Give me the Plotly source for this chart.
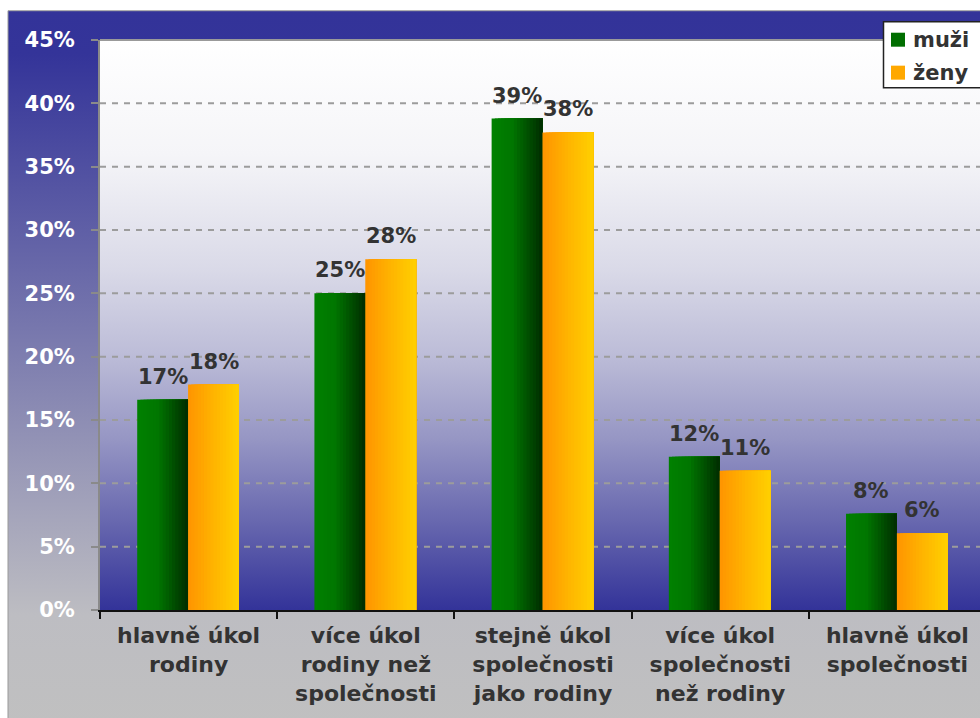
import base64
import plotly.graph_objects as go

categories = ["hlavně úkol<br>rodiny", "více úkol<br>rodiny než<br>společnosti",
              "stejně úkol<br>společnosti<br>jako rodiny", "více úkol<br>společnosti<br>než rodiny",
              "hlavně úkol<br>společnosti"]
muzi = [16.6, 25.0, 38.8, 12.1, 7.6]
zeny = [17.8, 27.7, 37.7, 11.0, 6.05]
series_names = ["muži", "ženy"]
y_ticks = [0, 5, 10, 15, 20, 25, 30, 35, 40, 45]

FONT = "DejaVu Sans"
TXT = "#333333"

def svg_uri(stops):
    st = "".join(f'<stop offset="{o}" stop-color="{c}"/>' for o, c in stops)
    svg = ('<svg xmlns="http://www.w3.org/2000/svg" width="100" height="100" viewBox="0 0 100 100" '
           'preserveAspectRatio="none"><defs><linearGradient id="g" x1="0" y1="0" x2="0" y2="1">'
           + st + '</linearGradient></defs><rect x="0" y="0" width="100" height="100" fill="url(#g)"/></svg>')
    return "data:image/svg+xml;base64," + base64.b64encode(svg.encode()).decode()

outer_bg = svg_uri([(0, "#333399"), (0.06, "#343499"), (0.84, "#bdbdc2"), (1, "#c0c0c0")])
inner_bg = svg_uri([(0, "#ffffff"), (0.2, "#f5f5f8"), (0.4, "#dadae8"), (0.55, "#bdbdd8"),
                    (0.7, "#9696c4"), (0.85, "#6666ae"), (1, "#333399")])

def interp(stops, t):
    for (t0, c0), (t1, c1) in zip(stops, stops[1:]):
        if t0 <= t <= t1:
            f = (t - t0) / (t1 - t0) if t1 > t0 else 0
            return "rgb(%d,%d,%d)" % tuple(round(a + (b - a) * f) for a, b in zip(c0, c1))
    return "rgb(%d,%d,%d)" % stops[-1][1]

green_stops = [(0, (0, 128, 0)), (0.4, (0, 118, 0)), (1, (0, 48, 0))]
orange_stops = [(0, (255, 150, 0)), (0.5, (255, 180, 0)), (1, (255, 206, 0))]

BW = 0.287
K = 16
fig = go.Figure()
for vals, off0, stops in [(muzi, -0.29, green_stops), (zeny, -0.003, orange_stops)]:
    for i in range(K):
        t = i / (K - 1)
        fig.add_trace(go.Bar(
            x=categories, y=vals, width=BW * (1 - i / K), offset=off0 + BW * i / K,
            marker=dict(color=interp(stops, t), line=dict(width=0)),
            showlegend=False, hoverinfo="skip"))

annotations = []
for vals, off0 in [(muzi, -0.29), (zeny, -0.003)]:
    for j, v in enumerate(vals):
        annotations.append(dict(
            x=j + off0 + BW / 2, y=v, xref="x", yref="y", text=f"{round(v)}%",
            showarrow=False, yanchor="bottom", yshift=9,
            font=dict(family=FONT, size=21, color=TXT, weight="bold")))

PX = 880.0
PY = 570.7
def px(x): return (x - 100) / PX
def py(y): return (610 - y) / PY

shapes = [
    dict(type="rect", xref="paper", yref="paper", x0=px(8), x1=px(1000), y0=py(730), y1=py(10),
         line=dict(color="#999999", width=1), fillcolor="rgba(0,0,0,0)", layer="below"),
    dict(type="line", xref="paper", yref="paper", x0=0, x1=1.05, y0=1, y1=1,
         line=dict(color="#9a9a9a", width=2), layer="above"),
]
for t in y_ticks[1:-1]:
    shapes.append(dict(type="line", xref="paper", yref="y", x0=0, x1=1, y0=t, y1=t,
                       line=dict(color="#9c9c9c", width=2, dash="6px,6px"), layer="between"))

shapes.append(dict(type="rect", xref="paper", yref="paper", x0=px(883.5), x1=px(1000),
                   y0=py(87), y1=py(21), line=dict(color="#222222", width=1.5),
                   fillcolor="white", layer="above"))
leg_colors = ["#006e00", "#ffa800"]
for k, (name, col) in enumerate(zip(series_names, leg_colors)):
    ytop = 32 + k * 33
    shapes.append(dict(type="rect", xref="paper", yref="paper", x0=px(891), x1=px(905),
                       y0=py(ytop + 14), y1=py(ytop), line=dict(width=0), fillcolor=col,
                       layer="above"))
    annotations.append(dict(x=px(911), y=py(ytop + 7), xref="paper", yref="paper", text=name,
                            showarrow=False, xanchor="left", yanchor="middle",
                            font=dict(family=FONT, size=21, color=TXT, weight="bold")))

fig.update_layout(
    width=980, height=718,
    margin=dict(l=100, r=0, t=40, b=108),
    paper_bgcolor="white", plot_bgcolor="rgba(0,0,0,0)",
    barmode="overlay", showlegend=False,
    images=[
        dict(source=outer_bg, xref="paper", yref="paper", x=px(8), y=py(10),
             sizex=px(1000) - px(8), sizey=py(10) - py(730), sizing="stretch",
             xanchor="left", yanchor="top", layer="below"),
        dict(source=inner_bg, xref="paper", yref="paper", x=0, y=1, sizex=1.05, sizey=1,
             sizing="stretch", xanchor="left", yanchor="top", layer="below"),
    ],
    shapes=shapes, annotations=annotations,
    xaxis=dict(type="category", range=[-0.5, 4.466], tickson="boundaries",
               ticks="outside", ticklen=7, tickwidth=2, tickcolor="#111111",
               showline=True, linecolor="#111111", linewidth=2, showgrid=False,
               ticklabelstandoff=5,
               tickfont=dict(family=FONT, size=22, color=TXT, weight="bold")),
    yaxis=dict(range=[0, 45], tickvals=y_ticks, ticktext=[f"{t}%" for t in y_ticks],
               ticks="outside", ticklen=7, tickwidth=2, tickcolor="#8a8a8a",
               showline=True, linecolor="#8a8a8a", linewidth=2, showgrid=False,
               zeroline=False, ticklabelstandoff=12,
               tickfont=dict(family=FONT, size=21, color="white", weight="bold")),
)

fig.write_html("out.html")
